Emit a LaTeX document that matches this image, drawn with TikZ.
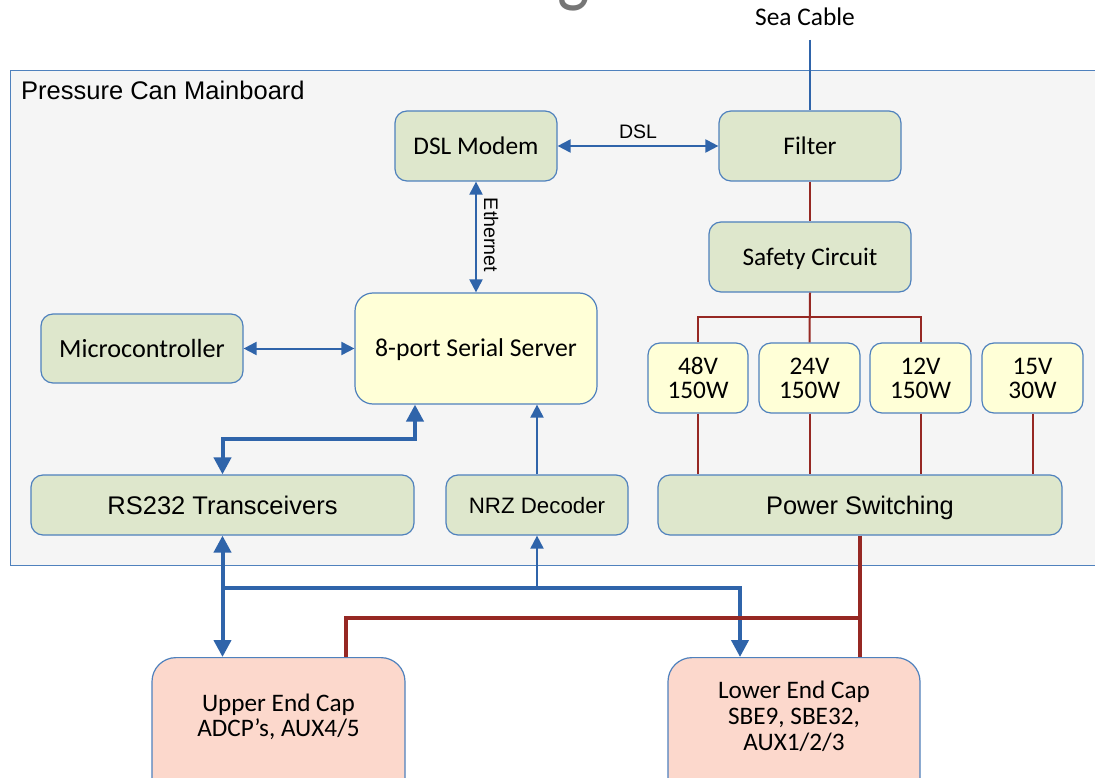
\documentclass[tikz,border=0pt]{standalone}
\usepackage{fontspec}
\setmainfont{Carlito}
\newfontfamily\arialfont{Liberation Sans}
\usetikzlibrary{arrows.meta,calc}

\definecolor{boxblue}{RGB}{79,129,189}
\definecolor{linkblue}{RGB}{47,100,170}
\definecolor{powerred}{RGB}{150,40,35}
\definecolor{greenfill}{RGB}{222,231,204}
\definecolor{yellowfill}{RGB}{255,255,215}
\definecolor{pinkfill}{RGB}{252,216,204}
\definecolor{boardfill}{RGB}{245,245,245}
\definecolor{titlegrey}{RGB}{118,118,118}

\tikzset{
  box/.style={draw=boxblue, line width=1.2pt, rounded corners=12pt, inner sep=0pt},
  gbox/.style={box, fill=greenfill},
  ybox/.style={box, fill=yellowfill},
  pbox/.style={box, fill=pinkfill, rounded corners=24pt},
  oneline/.style={text height=#1, text depth=0pt},
  cal/.style={font=\fontsize{#1}{#1}\selectfont},
  ari/.style={font=\arialfont\fontsize{#1}{#1}\selectfont},
  datalink/.style={draw=linkblue, line width=2pt},
  buslink/.style={draw=linkblue, line width=4pt},
  thinhead/.style={-{Triangle[length=13pt,width=13pt]}},
  thinboth/.style={{Triangle[length=13pt,width=13pt]}-{Triangle[length=13pt,width=13pt]}},
  thickhead/.style={-{Triangle[length=17pt,width=17pt]}},
  thickboth/.style={{Triangle[length=17pt,width=17pt]}-{Triangle[length=17pt,width=17pt]}},
  rail/.style={draw=powerred, line width=2pt},
  mainrail/.style={draw=powerred, line width=4pt},
}

\begin{document}
\begin{tikzpicture}[x=1pt,y=-1pt]
\useasboundingbox (0,0) rectangle (1095,778);
\clip (0,0) rectangle (1095,778);
\fill[white] (0,0) rectangle (1095,778);

% slide heading, mostly above the page edge
\node[anchor=base east, inner sep=0pt, text=titlegrey, font=\fontsize{85}{85}\selectfont] (heading) at (590,-3) {\scalebox{0.81}[1]{Sensor Data Routing}};

% mainboard enclosure
\node[draw=boxblue, line width=1.2pt, fill=boardfill, anchor=north west, minimum width=1110, minimum height=495, inner sep=0pt] (board) at (10,70) {};
\node[ari=25.5, anchor=base west, inner sep=0pt] (boardlabel) at (21,100) {Pressure Can Mainboard};

% sea cable entry
\node[cal=25.4, anchor=base, inner sep=0pt] (cablelabel) at (805,26) {Sea Cable};
\coordinate (cable) at (810,40);

% blocks
\node[gbox, oneline=16.5pt, cal=25.4, minimum width=162, minimum height=70] (dsl) at (476,146) {DSL Modem};
\node[gbox, oneline=16.5pt, cal=25.4, minimum width=182, minimum height=70] (filter) at (810,146) {Filter};
\node[gbox, oneline=16.5pt, cal=25.3, minimum width=202, minimum height=70] (safety) at (810,257) {Safety Circuit};
\node[ybox, oneline=16.5pt, cal=25.7, minimum width=242, minimum height=111, rounded corners=18pt] (server) at (476,348.5) {8-port Serial Server};
\node[gbox, oneline=17pt, cal=26.2, minimum width=202, minimum height=69] (micro) at (142,348.5) {Microcontroller};
\node[gbox, oneline=18.2pt, ari=25.5, minimum width=383, minimum height=60] (rs232) at (222.5,505) {RS232 Transceivers};
\node[gbox, oneline=16pt, ari=22.3, minimum width=182, minimum height=60] (nrz) at (537,505) {NRZ Decoder};
\node[gbox, oneline=18.2pt, ari=25.4, minimum width=404, minimum height=60] (power) at (860,505) {Power Switching};

% supplies
\tikzset{supply/.style={ybox, align=center, font=\fontsize{25.3}{24}\selectfont, minimum width=101, minimum height=70}}
\node[supply, minimum width=100] (v48) at (698,378) {48V\\150W};
\node[supply] (v24) at (809.5,378) {24V\\150W};
\node[supply] (v12) at (920.5,378) {12V\\150W};
\node[supply] (v15) at (1032.5,378) {15V\\30W};

% end caps
\node[pbox, minimum width=253, minimum height=170, anchor=north] (upper) at (278.5,657) {};
\node[pbox, minimum width=252, minimum height=170, anchor=north] (lower) at (794,657) {};
\node[align=center, font=\fontsize{25.2}{25}\selectfont, inner sep=0pt] (uppertext) at (278.5,717) {Upper End Cap\\ADCP’s, AUX4/5};
\node[align=center, font=\fontsize{25.2}{26}\selectfont, inner sep=0pt] (lowertext) at (794,716) {Lower End Cap\\SBE9, SBE32,\\AUX1/2/3};

% data links
\draw[datalink] (cable) -- (filter.north);
\draw[datalink, thinboth] (dsl.east) -- node[ari=19.5, above=6pt, inner sep=0pt] (dsllabel) {DSL} (filter.west);
\draw[datalink, thinboth] (dsl.south) -- (server.north);
\node[ari=19.6, rotate=-90, inner sep=0pt] (ethlabel) at (491,235) {Ethernet};
\draw[datalink, thinboth] (micro.east) -- (server.west);
\draw[buslink, thickboth] (rs232.north) -- ++(0,-35) -| ($(server.south)+(-61,0)$);
\draw[datalink, thinhead] (nrz.north) -- (nrz.north |- server.south);

% external buses
\coordinate (bus) at ($(rs232.south)+(0,52)$);
\draw[buslink, thickboth] (rs232.south) -- (rs232.south |- upper.north);
\draw[buslink, thickhead] (bus) -| ($(lower.north)+(-54,0)$);
\draw[datalink, thinhead] (nrz.south |- bus) -- (nrz.south);

% power distribution
\draw[rail] (filter.south) -- (safety.north);
\draw[rail] (safety.south) -- (v24.north);
\draw[rail] (v48.north) -- ++(0,-25) -| (v12.north);
\foreach \s in {v48,v24,v12,v15}
  \draw[rail] (\s.south) -- (\s.south |- power.north);
\draw[mainrail] (power.south) -- (power.south |- lower.north);
\draw[mainrail] ($(power.south)+(0,82)$) -| ($(upper.north)+(67,0)$);
\end{tikzpicture}
\end{document}
